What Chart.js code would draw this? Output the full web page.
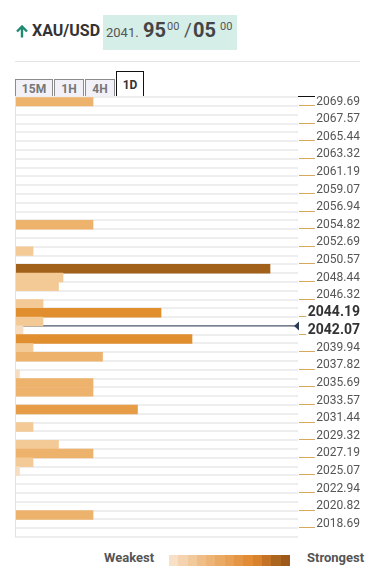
<!DOCTYPE html>
<html>
<head>
<meta charset="utf-8">
<script src="https://cdn.jsdelivr.net/npm/chart.js@4.4.1/dist/chart.umd.min.js"></script>
<style>
body{margin:0;background:#fff;font-family:Roboto,Arial,sans-serif;width:374px;height:580px;position:relative;overflow:hidden}
.a{position:absolute;white-space:nowrap;line-height:1}
.tab{position:absolute;box-sizing:border-box;background:#f1f1f7;border:1px solid #8c8c8c;border-bottom:none;color:#777;font-weight:bold;font-size:12px;text-align:center}
#wrap{position:absolute;left:0;top:90px}
</style>
</head>
<body>
<svg class="a" style="left:15px;top:25px" width="14" height="13" viewBox="0 0 14 13">
<path d="M7 12.5V2M2 6.5L7 1.5L12 6.5" stroke="#1f8a72" stroke-width="2.4" fill="none"/>
</svg>
<div class="a" style="left:32px;top:23px;font-size:16px;font-weight:bold;color:#333">XAU/USD</div>
<div class="a" style="left:103px;top:15px;width:134px;height:35px;background:#d5eee7"></div>
<div class="a" style="left:106px;top:26px;font-size:13px;color:#555">2041.</div>
<div class="a" style="left:143px;top:20px;font-size:20px;font-weight:bold;color:#444">95</div>
<div class="a" style="left:167px;top:21px;font-size:11px;color:#555">00</div>
<div class="a" style="left:184px;top:20px;font-size:19px;color:#555">/</div>
<div class="a" style="left:193px;top:20px;font-size:20px;font-weight:bold;color:#444">05</div>
<div class="a" style="left:220px;top:21px;font-size:11px;color:#555">00</div>
<div class="a" style="left:15px;top:61px;width:345px;height:1px;background:#e4e4e4"></div>

<div class="tab" style="left:15px;top:79px;width:38px;height:18px;line-height:18px">15M</div>
<div class="tab" style="left:54px;top:79px;width:30px;height:18px;line-height:18px">1H</div>
<div class="tab" style="left:85px;top:79px;width:30px;height:18px;line-height:18px">4H</div>
<div class="tab" style="left:116px;top:71px;width:28px;height:26px;line-height:26px;background:#fff;border:1.5px solid #111;border-bottom:none;color:#333">1D</div>
<div class="a" style="left:143px;top:95.5px;width:172px;height:1.5px;background:#111"></div>

<div id="wrap"><canvas id="chart" width="374" height="455"></canvas></div>

<div class="a" style="left:104px;top:551px;font-size:13px;font-weight:bold;color:#555">Weakest</div>
<div class="a" id="grad" style="left:169px;top:555px;height:11px;display:flex"></div>
<div class="a" style="left:307px;top:551px;font-size:13px;font-weight:bold;color:#555">Strongest</div>

<script>
// price levels shown on the right (every second row)
const tickLabels = [
"2069.69","2067.57","2065.44","2063.32","2061.19","2059.07","2056.94",
"2054.82","2052.69","2050.57","2048.44","2046.32","2044.19","2042.07",
"2039.94","2037.82","2035.69","2033.57","2031.44","2029.32","2027.19",
"2025.07","2022.94","2020.82","2018.69"
];

// confluence strength per row, top to bottom (50 rows)
const strength = [
78,0,0,0,0,0,0,0,0,0,
0,0,0,0,78,0,0,18,0,255,
48,43.5,0,28,146,28,8,177,18,87.5,
0,4.5,78,78,0,122.5,0,18,0,43.5,
78,18,4.5,0,0,0,0,78,0,0
];

const boldLabels = ["2044.19","2042.07"];

const scaleColors = [
"#f7e0c6","#f4d4b0","#f2c99b","#efbe87","#edb476","#eaaa64",
"#e8a055","#e59645","#e28c35","#d9822c","#c47326","#ac651f","#9c591a"
];

const rowLabels =
tickLabels.flatMap(t => [t, ""]);

function colorFor(v){
if(v < 10) return "#f6ddbf";
if(v < 60) return "#f3c995";
if(v < 100) return "#edb26c";
if(v < 130) return "#e79c48";
if(v < 200) return "#e18e2e";
return "#a2611b";
}

// legend swatches
const grad = document.getElementById("grad");
scaleColors.forEach(c => {
const d = document.createElement("div");
d.style.width = (121 / scaleColors.length) + "px";
d.style.height = "11px";
d.style.background = c;
grad.appendChild(d);
});

Chart.defaults.font.family = "Roboto";

const extras = {
id:"extras",
beforeDatasetsDraw(chart){
const {ctx, chartArea, scales} = chart;
const y = scales.y;
// current price line, between the 2044/2042 rows
const py = (y.getPixelForValue(25) + y.getPixelForValue(26)) / 2;
ctx.save();
ctx.strokeStyle = "#2e3b55";
ctx.lineWidth = 1;
ctx.beginPath();
ctx.moveTo(chartArea.left, py);
ctx.lineTo(chartArea.right - 2, py);
ctx.stroke();
ctx.restore();
},
afterDraw(chart){
const {ctx, chartArea, scales} = chart;
const y = scales.y;
const rowH = y.getPixelForValue(1) - y.getPixelForValue(0);
ctx.save();
// left border
ctx.strokeStyle = "#e2e2e2";
ctx.lineWidth = 1;
ctx.beginPath();
ctx.moveTo(chartArea.left + 0.5, chartArea.top);
ctx.lineTo(chartArea.left + 0.5, chartArea.bottom);
ctx.stroke();
// marker on price line
const py = (y.getPixelForValue(25) + y.getPixelForValue(26)) / 2;
ctx.fillStyle = "#2e3b55";
ctx.beginPath();
ctx.moveTo(chartArea.right + 1, py - 4.5);
ctx.lineTo(chartArea.right + 1, py + 4.5);
ctx.lineTo(chartArea.right - 4, py);
ctx.closePath();
ctx.fill();
// small underline ticks leading to labels
ctx.strokeStyle = "#d8a75c";
y.ticks.forEach((t, i) => {
if(!t.label) return;
const bold = boldLabels.includes(t.label);
ctx.font = (bold ? "bold 14px" : "12px") + " Roboto";
const w = ctx.measureText(t.label).width;
const ty = Math.round(y.getPixelForTick(i) + rowH / 2 - 1) + 0.5;
ctx.beginPath();
ctx.moveTo(chartArea.right + 1, ty);
ctx.lineTo(y.right - w - 1.5, ty);
ctx.stroke();
});
ctx.restore();
}
};

const ctx =
document
.getElementById("chart");

const chart =
new Chart(ctx,{
type:"bar",
data:{
labels:rowLabels,
datasets:[{
label:"Strength",
data:strength,
backgroundColor:c => colorFor(c.raw),
barPercentage:1,
categoryPercentage:1,
borderWidth:0
}]
},
options:{
indexAxis:"y",
responsive:false,
animation:false,
layout:{padding:{left:15,right:14,top:7,bottom:8}},
plugins:{legend:{display:false},tooltip:{enabled:false}},
scales:{
x:{display:false,min:0,max:283},
y:{
position:"right",
grid:{color:"#eeeeee",lineWidth:2,drawTicks:false,offset:true},
border:{display:false},
ticks:{
autoSkip:false,
padding:0,
crossAlign:"far",
color:c => boldLabels.includes(c.tick.label) ? "#333" : "#555",
font:c => boldLabels.includes(c.tick.label)
? {size:14,weight:"bold"}
: {size:12}
},
afterFit(s){ s.width = 62; }
}
}
},
plugins:[extras]
});
</script>
</body>
</html>
